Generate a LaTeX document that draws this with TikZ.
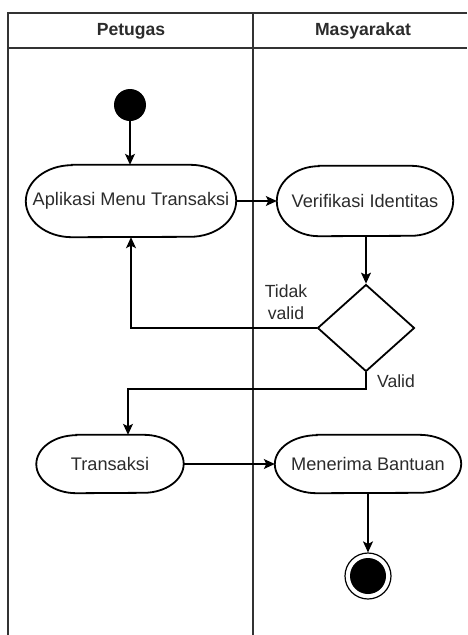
\documentclass[tikz,border=0pt]{standalone}
\usepackage{fontspec}
\setmainfont{Liberation Sans}
\usetikzlibrary{arrows.meta,shapes.geometric}
\definecolor{txt}{HTML}{2B2B2B}
\definecolor{lanec}{HTML}{333333}
\tikzset{
  act/.style={draw=none, rectangle, font=\fontsize{18.2}{20}\selectfont, text=txt, inner sep=0pt},
  actline/.style={draw=black, line width=1.8pt},
  flow/.style={draw=black, line width=1.2pt, -{Stealth[length=11pt,width=10pt,inset=2.5pt]}},
  lbl/.style={font=\fontsize{17.6}{22}\selectfont, text=txt, align=center, inner sep=0pt},
  hdr/.style={font=\bfseries\fontsize{17.6}{20}\selectfont, text=txt, inner sep=0pt},
  lane/.style={draw=lanec, line width=1.6pt}
}
\newcommand\actoutline[3]{%
  \draw[actline] ([xshift=#2]#1.north west) -- ([xshift=-#2]#1.north east)
    arc[start angle=90, end angle=-90, x radius=#2, y radius=#3]
    -- ([xshift=#2]#1.south west)
    arc[start angle=270, end angle=90, x radius=#2, y radius=#3] -- cycle;}
\begin{document}
\begin{tikzpicture}[x=1pt,y=-1pt]
\useasboundingbox (0,0) rectangle (467,635);
% swimlanes
\draw[lane] (467,13) -- (8,13) -- (8,635);
\draw[lane] (8,48) -- (467,48);
\draw[lane, line width=2.2pt] (253,13) -- (253,635);
\node[hdr] (h1) at (131,31) {Petugas};
\node[hdr] (h2) at (363,31) {Masyarakat};
% nodes
\node[circle, fill=black, minimum size=32pt, inner sep=0pt] (start) at (130,105) {};
\node[act, minimum width=210pt, minimum height=72pt] (apl) at (131,201) {Aplikasi Menu Transaksi};
\actoutline{apl}{46pt}{36pt}
\node[act, minimum width=176pt, minimum height=70pt] (ver) at (365,201) {Verifikasi Identitas};
\actoutline{ver}{42pt}{35pt}
\node[diamond, draw=black, line width=1.8pt, fill=white, minimum width=97pt, minimum height=87pt, inner sep=0pt, aspect=1.1] (dia) at (366,328) {};
\node[act, minimum width=147pt, minimum height=58pt] (tra) at (110,464) {Transaksi};
\actoutline{tra}{40pt}{29pt}
\node[act, minimum width=186pt, minimum height=58pt] (men) at (368,464) {Menerima Bantuan};
\actoutline{men}{42pt}{29pt}
\node[circle, draw=black, line width=1.2pt, fill=white, minimum size=46pt, inner sep=0pt] (end) at (368,576) {};
\node[circle, fill=black, minimum size=36pt, inner sep=0pt] (endin) at (end.center) {};
% labels
\node[lbl] (tv) at (286,302) {Tidak\\valid};
\node[lbl] (vl) at (396,381) {Valid};
% connectors
\coordinate (vturn) at (128,389);
\draw[flow] (start) -- (apl.north -| start);
\draw[flow] (apl.east) -- (ver.west);
\draw[flow] (ver.south -| dia.north) -- (dia.north);
\draw[flow] (dia.west) -| (apl.south);
\draw[flow] (dia.south) |- (vturn) -- (vturn |- tra.north);
\draw[flow] (tra.east) -- (men.west);
\draw[flow] (men.south) -- (end.north);
\end{tikzpicture}
\end{document}
